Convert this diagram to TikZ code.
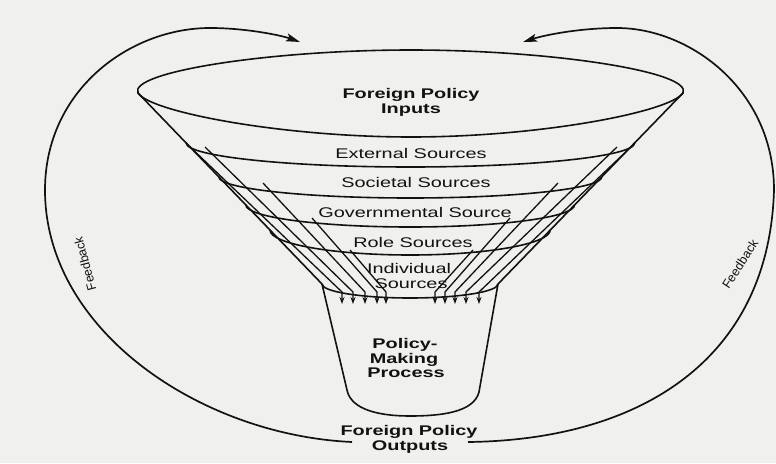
\documentclass[tikz,border=0pt]{standalone}
\usepackage{fontspec}
\setmainfont{Liberation Sans}
\newfontfamily\widesans[FakeStretch=1.42]{Liberation Sans}
\usetikzlibrary{arrows.meta}
\definecolor{paper}{RGB}{240,240,238}
\definecolor{ink}{RGB}{18,18,18}
\begin{document}
\begin{tikzpicture}[x=1pt,y=-1pt,
  ln/.style={draw=ink,line width=1.6pt},
  fbk/.style={draw=ink,line width=1.7pt,-{Stealth[length=14pt,width=8pt,inset=3pt]}},
  flow/.style={draw=ink,line width=1.3pt,-{Stealth[length=7pt,width=5pt]}},
  ttl/.style={font=\widesans\bfseries\fontsize{14}{15}\selectfont,text=ink,inner sep=0pt,anchor=base},
  band/.style={font=\widesans\fontsize{14}{15}\selectfont,text=ink,inner sep=0pt,anchor=base},
  fbl/.style={font=\fontsize{12.5}{14}\selectfont,text=ink,inner sep=0pt}]
\fill[paper] (0,0) rectangle (776,463);
\useasboundingbox (0,0) rectangle (776,463);

% top ellipse (funnel mouth)
\draw[ln] (138,93) .. controls (128,72) and (270,50) .. (411,50)
  .. controls (552,50) and (693,72) .. (683,93)
  .. controls (670,112) and (540,137) .. (411,137)
  .. controls (282,137) and (150,112) .. (138,93) -- cycle;

% funnel sides
\coordinate (tl) at (138,93);
\coordinate (tr) at (683,93);
\coordinate (cl) at (322,284);
\coordinate (cr) at (498,284);
\draw[ln] (tl) -- (cl);
\draw[ln] (tr) -- (cr);

% band arcs
\draw[ln] (186.2,143) arc[start angle=180,end angle=0,x radius=224.2,y radius=24];
\draw[ln] (218.9,177) arc[start angle=180,end angle=0,x radius=191.4,y radius=21];
\draw[ln] (245.9,205) arc[start angle=180,end angle=0,x radius=164.3,y radius=22];
\draw[ln] (270,230) arc[start angle=180,end angle=0,x radius=140.1,y radius=25];
\draw[ln] (cl) arc[start angle=180,end angle=0,x radius=88,y radius=14];

% cup
\draw[ln] (cl) -- (347,390) .. controls (351,410) and (380,416) .. (410,416)
  .. controls (442,416) and (474,412) .. (479,392) -- (cr);

% flow arrows, left
\draw[flow] (186,143) -- (342,292) -- (342,304);
\draw[flow] (205,147) -- (353,292) -- (353,304);
\draw[flow] (263,183) -- (365,292) -- (365,304);
\draw[flow] (312,218) -- (377,292) -- (377,304);
\draw[flow] (350,250) -- (386,292) -- (386,304);
% flow arrows, right
\draw[flow] (635,143) -- (479,292) -- (479,304);
\draw[flow] (617,147) -- (466,292) -- (466,304);
\draw[flow] (558,183) -- (455,292) -- (455,304);
\draw[flow] (510,218) -- (445,292) -- (445,304);
\draw[flow] (473,250) -- (435,292) -- (435,304);

% texts
\node[ttl] (in1) at (411,98) {Foreign Policy};
\node[ttl] (in2) at (411,113) {Inputs};
\node[band] (ext) at (411,158) {External Sources};
\node[band] (soc) at (416,187) {Societal Sources};
\node[band] (gov) at (415,217) {Governmental Source};
\node[band] (rol) at (413,247) {Role Sources};
\node[band] (ind1) at (409,273) {Individual};
\node[band] (ind2) at (411,288) {Sources};
\node[ttl] (pm1) at (405,348) {Policy-};
\node[ttl] (pm2) at (404,363) {Making};
\node[ttl] (pm3) at (406,377) {Process};
\node[ttl] (out1) at (409,435) {Foreign Policy};
\node[ttl] (out2) at (410,450) {Outputs};

% feedback loops
\coordinate (fl0) at (352,442);
\coordinate (fl1) at (45,190);
\coordinate (fl2) at (210,28);
\coordinate (fl3) at (300,42);
\coordinate (fr0) at (468,442);
\coordinate (fr1) at (774,190);
\coordinate (fr2) at (617,28);
\coordinate (fr3) at (523,42);
\draw[fbk] (fl0) .. controls (200,435) and (45,330) .. (fl1)
  .. controls (45,90) and (130,28) .. (fl2)
  .. controls (245,28) and (280,35) .. (fl3);
\draw[fbk] (fr0) .. controls (640,440) and (769,360) .. (fr1)
  .. controls (774,90) and (690,28) .. (fr2)
  .. controls (580,28) and (545,35) .. (fr3);
\node[fbl,rotate=105] (fbL) at (85,264) {Feedback};
\node[fbl,rotate=57] (fbR) at (740,264) {Feedback};
\end{tikzpicture}
\end{document}
